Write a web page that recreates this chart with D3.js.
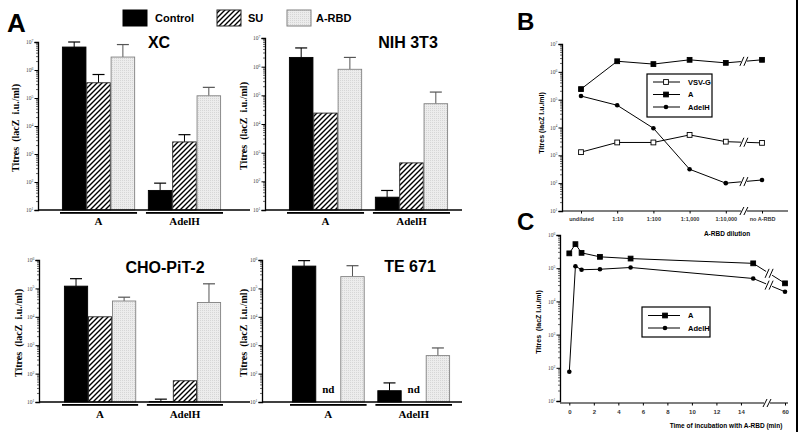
<!DOCTYPE html>
<html><head><meta charset="utf-8">
<script src="https://cdn.jsdelivr.net/npm/d3@7"></script>
<style>body{margin:0;background:#fff} svg{display:block}</style>
</head><body>
<svg id="c" width="800" height="438"></svg>
<script>
// ---------- DATA ----------
const groups = ["A", "AdelH"];
const series = ["Control", "SU", "A-RBD"];

const xcValues  = [[6.6e6, 3.5e5, 2.9e6], [50, 2700, 1.2e5]];
const xcErrors  = [[1.0e7, 6.9e5, 8.1e6], [91, 4900, 2.4e5]];
const nihValues = [[2.1e6, 2.4e4, 8.1e5], [28, 440, 5.1e4]];
const nihErrors = [[4.5e6, null, 2.1e6], [48, null, 1.3e5]];
const choValues = [[1.2e5, 1.0e4, 3.6e4], [10.3, 56, 3.2e4]];
const choErrors = [[2.2e5, null, 4.9e4], [12.6, null, 1.45e5]];
const teValues  = [[6.1e5, null, 2.6e5], [25, null, 430]];
const teErrors  = [[9.5e5, null, 6.3e5], [47, null, 800]];

const bCategories = ["undiluted", "1:10", "1:100", "1:1,000", "1:10,000", "no A-RBD"];
const bVSVG  = [1300, 2900, 2900, 5400, 3100, 2800];
const bA     = [2.4e5, 2.4e6, 1.9e6, 2.7e6, 2.1e6, 2.7e6];
const bAdelH = [1.35e5, 6.3e4, 9.4e3, 316, 100, 130];

const cTimes = [0, 0.5, 1, 2.5, 5, 15, 60];
const cA     = [2.8e5, 5.3e5, 2.9e5, 2.2e5, 1.95e5, 1.4e5, 3.5e4];
const cAdelH = [76, 1.15e5, 9.0e4, 9.3e4, 1.05e5, 4.9e4, 1.95e4];
const cTickValues = [0, 2, 4, 6, 8, 10, 12, 14, 60];

// ---------- DRAW ----------
const svg = d3.select("#c");
const SANS = "'Liberation Sans', Arial, Helvetica, sans-serif";
const SERIF = "'Liberation Serif', 'Times New Roman', serif";

const defs = svg.append("defs");
const pat = defs.append("pattern").attr("id", "hatch").attr("patternUnits", "userSpaceOnUse")
  .attr("width", 5).attr("height", 5);
pat.append("rect").attr("width", 5).attr("height", 5).attr("fill", "#fff");
pat.append("path").attr("d", "M-1,1 l2,-2 M0,5 l5,-5 M4,6 l2,-2")
  .attr("stroke", "#000").attr("stroke-width", 1.4);
const dots = defs.append("pattern").attr("id", "dots").attr("patternUnits", "userSpaceOnUse")
  .attr("width", 2).attr("height", 2);
dots.append("rect").attr("width", 2).attr("height", 2).attr("fill", "#ececec");
dots.append("rect").attr("width", 1).attr("height", 1).attr("fill", "#d6d6d6");

const fills = {"Control": "#000", "SU": "url(#hatch)", "A-RBD": "url(#dots)"};
const strokes = {"Control": "#000", "SU": "#222", "A-RBD": "#808080"};

function logAxis(g, y, minExp, maxExp, axisX) {
  const major = d3.range(minExp, maxExp + 1).map(e => Math.pow(10, e));
  const ax = g.append("g").attr("transform", `translate(${axisX},0)`)
    .call(d3.axisLeft(y).tickValues(major).tickSize(3.5).tickFormat(""));
  ax.select(".domain").attr("stroke-width", 1.3);
  ax.selectAll(".tick line").attr("stroke-width", 1);
  const minor = [];
  for (let e = minExp; e < maxExp; e++) for (let k = 2; k <= 9; k++) minor.push(k * Math.pow(10, e));
  ax.selectAll(".minor").data(minor).join("line").attr("class", "minor")
    .attr("x1", 0).attr("x2", -2).attr("y1", d => y(d)).attr("y2", d => y(d))
    .attr("stroke", "#000").attr("stroke-width", 0.6);
  ax.selectAll(".tick").each(function(d) {
    const t = d3.select(this).append("text").attr("x", -4.5).attr("y", 1.6)
      .attr("text-anchor", "end").attr("font-family", SERIF).attr("font-size", 5.5).attr("fill", "#444");
    t.append("tspan").text("10");
    t.append("tspan").attr("dy", -2.2).attr("font-size", 3.8).text(Math.round(Math.log10(d)));
  });
}

function yTitle(x, yc, size, family, text) {
  svg.append("text").attr("transform", `translate(${x},${yc}) rotate(-90)`)
    .attr("text-anchor", "middle").attr("font-family", family).attr("font-weight", "bold")
    .attr("font-size", size).attr("xml:space", "preserve").style("white-space", "pre").text(text);
}

function barPanel(cfg, values, errors) {
  const g = svg.append("g");
  const y = d3.scaleLog().domain([Math.pow(10, cfg.minExp), Math.pow(10, cfg.maxExp)]).range([cfg.bottom, cfg.top]);
  const x0 = d3.scaleBand().domain(groups).range(cfg.barRange).paddingInner(0.15);
  const x1 = d3.scaleBand().domain(series).range([0, x0.bandwidth()]);
  groups.forEach((grp, gi) => {
    series.forEach((s, si) => {
      const v = values[gi][si];
      const cx = x0(grp) + x1(s) + x1.bandwidth() / 2;
      if (v == null) {
        g.append("text").attr("x", cx).attr("y", cfg.bottom - 9).attr("text-anchor", "middle")
          .attr("font-family", SERIF).attr("font-weight", "bold").attr("font-size", 11).text("nd");
        return;
      }
      const e = errors[gi][si];
      const ec = s === "A-RBD" ? "#555" : "#000";
      if (e != null) {
        g.append("line").attr("x1", cx).attr("x2", cx).attr("y1", y(v)).attr("y2", y(e))
          .attr("stroke", ec).attr("stroke-width", 1);
        g.append("line").attr("x1", cx - 6).attr("x2", cx + 6).attr("y1", y(e)).attr("y2", y(e))
          .attr("stroke", ec).attr("stroke-width", 1.2);
      }
      g.append("rect").attr("x", x0(grp) + x1(s) + 0.4).attr("y", y(v))
        .attr("width", x1.bandwidth() - 0.8).attr("height", cfg.bottom - y(v))
        .attr("fill", fills[s]).attr("stroke", strokes[s]).attr("stroke-width", 0.9);
    });
    g.append("rect").attr("x", x0(grp) - 2).attr("y", cfg.bottom + 2)
      .attr("width", x0.bandwidth() + 4).attr("height", 1.8).attr("fill", "#000");
    g.append("text").attr("x", x0(grp) + x0.bandwidth() / 2).attr("y", cfg.groupLabelY)
      .attr("text-anchor", "middle").attr("font-family", SERIF).attr("font-weight", "bold")
      .attr("font-size", 11).text(grp);
  });
  g.append("line").attr("x1", cfg.axisX).attr("x2", cfg.baseEnd).attr("y1", cfg.bottom).attr("y2", cfg.bottom)
    .attr("stroke", "#000").attr("stroke-width", 1.3);
  logAxis(g, y, cfg.minExp, cfg.maxExp, cfg.axisX);
  g.append("text").attr("x", cfg.titleX).attr("y", cfg.titleY).attr("text-anchor", "middle")
    .attr("font-family", SANS).attr("font-weight", "bold").attr("font-size", 16).text(cfg.title);
  yTitle(cfg.labelX, (cfg.top + cfg.bottom) / 2 + 2, 10, SERIF, "Titres  (lacZ  i.u./ml)");
}

barPanel({title: "XC", titleX: 159, titleY: 48, axisX: 38, top: 42, bottom: 210, minExp: 1, maxExp: 7,
  barRange: [62, 221], baseEnd: 250, labelX: 19, groupLabelY: 225}, xcValues, xcErrors);
barPanel({title: "NIH 3T3", titleX: 408, titleY: 48, axisX: 265, top: 38, bottom: 210, minExp: 1, maxExp: 7,
  barRange: [289, 448], baseEnd: 462, labelX: 247, groupLabelY: 225}, nihValues, nihErrors);
barPanel({title: "CHO-PiT-2", titleX: 165, titleY: 273, axisX: 39, top: 260, bottom: 402, minExp: 1, maxExp: 6,
  barRange: [64, 221], baseEnd: 250, labelX: 22, groupLabelY: 418}, choValues, choErrors);
barPanel({title: "TE 671", titleX: 410, titleY: 272, axisX: 262, top: 260, bottom: 402, minExp: 1, maxExp: 6,
  barRange: [292, 450], baseEnd: 462, labelX: 247, groupLabelY: 418}, teValues, teErrors);

// Top legend
const legItems = [{s: "Control", x: 123, tx: 155}, {s: "SU", x: 217, tx: 248}, {s: "A-RBD", x: 287, tx: 316}];
legItems.forEach(d => {
  svg.append("rect").attr("x", d.x).attr("y", 10).attr("width", 24).attr("height", 16)
    .attr("fill", fills[d.s]).attr("stroke", strokes[d.s]).attr("stroke-width", 1);
  svg.append("text").attr("x", d.tx).attr("y", 22).attr("font-family", SANS).attr("font-weight", "bold")
    .attr("font-size", 11).text(d.s);
});

// Panel letters
[["A", 7, 32, 26], ["B", 517, 30, 24], ["C", 517, 230, 24]].forEach(([t, x, y, s]) => {
  svg.append("text").attr("x", x).attr("y", y).attr("font-family", SANS).attr("font-weight", "bold")
    .attr("font-size", s).text(t);
});

function breakMark(g, x, y, h) {
  g.append("rect").attr("x", x - 3).attr("y", y - h / 2).attr("width", 6).attr("height", h).attr("fill", "#fff");
  [-2, 2].forEach(dx => g.append("line").attr("x1", x + dx - 2).attr("x2", x + dx + 2)
    .attr("y1", y + h / 2).attr("y2", y - h / 2).attr("stroke", "#000").attr("stroke-width", 1));
}
function marker(g, type, x, y) {
  if (type === "circle") g.append("circle").attr("cx", x).attr("cy", y).attr("r", 2.3).attr("fill", "#000");
  else g.append("rect").attr("x", x - 2.4).attr("y", y - 2.4).attr("width", 4.8).attr("height", 4.8)
    .attr("fill", type === "open" ? "#fff" : "#000").attr("stroke", "#000").attr("stroke-width", 0.9);
}

// ---------- Panel B ----------
{
  const g = svg.append("g");
  const x = d3.scalePoint().domain(bCategories).range([581, 762]);
  const y = d3.scaleLog().domain([10, 1e7]).range([211, 44]);
  const xa = g.append("g").attr("transform", "translate(0,211)")
    .call(d3.axisBottom(x).tickSize(2.5).tickSizeOuter(0));
  xa.select(".domain").attr("d", "M562,0H788").attr("stroke-width", 1.2);
  xa.selectAll(".tick text").attr("font-family", SANS).attr("font-size", 5.5).attr("font-weight", "bold")
    .attr("fill", "#333").attr("dy", "0.9em");
  logAxis(g, y, 1, 7, 562);
  const bx = (x("1:10,000") + x("no A-RBD")) / 2;
  breakMark(g, bx, 211, 8);
  const sets = [[bVSVG, "open"], [bA, "square"], [bAdelH, "circle"]];
  sets.forEach(([vals, type]) => {
    g.append("path").attr("d", d3.line().x((d, i) => x(bCategories[i])).y(d => y(d))(vals))
      .attr("fill", "none").attr("stroke", "#000").attr("stroke-width", 1);
    const ym = (y(vals[4]) + y(vals[5])) / 2;
    breakMark(g, bx, ym, 9);
    vals.forEach((v, i) => marker(g, type, x(bCategories[i]), y(v)));
  });
  g.append("rect").attr("x", 647).attr("y", 74).attr("width", 65).attr("height", 43)
    .attr("fill", "#fff").attr("stroke", "#000").attr("stroke-width", 1.2);
  [["VSV-G", "open", 82], ["A", "square", 94.5], ["AdelH", "circle", 107]].forEach(([t, type, yy]) => {
    g.append("line").attr("x1", 653).attr("x2", 680).attr("y1", yy).attr("y2", yy).attr("stroke", "#000");
    marker(g, type, 666, yy);
    g.append("text").attr("x", 688).attr("y", yy + 2.6).attr("font-family", SANS).attr("font-weight", "bold")
      .attr("font-size", 7.5).text(t);
  });
  yTitle(544, 123, 7, SANS, "Titres (lacZ I.u./ml)");
  g.append("text").attr("x", 727).attr("y", 236).attr("text-anchor", "middle").attr("font-family", SANS)
    .attr("font-weight", "bold").attr("font-size", 6.5).text("A-RBD dilution");
}

// ---------- Panel C ----------
{
  const g = svg.append("g");
  const x = d3.scaleLinear().domain([0, 15, 60]).range([569.3, 753.2, 785]);
  const y = d3.scaleLog().domain([10, 1e6]).range([401, 235]);
  const xa = g.append("g").attr("transform", "translate(0,403)")
    .call(d3.axisBottom(x).tickValues(cTickValues).tickSize(2.5).tickSizeOuter(0).tickFormat(d3.format("d")));
  xa.select(".domain").attr("d", "M560,0H788").attr("stroke-width", 1.2);
  xa.selectAll(".tick text").attr("font-family", SANS).attr("font-size", 6).attr("font-weight", "bold")
    .attr("fill", "#333").attr("dy", "0.95em");
  logAxis(g, y, 1, 6, 560);
  const bx = (x(15) + x(60)) / 2;
  breakMark(g, 767, 403, 8);
  [[cA, "square"], [cAdelH, "circle"]].forEach(([vals, type]) => {
    g.append("path").attr("d", d3.line().x((d, i) => x(cTimes[i])).y(d => y(d))(vals))
      .attr("fill", "none").attr("stroke", "#000").attr("stroke-width", 1);
    const ym = (y(vals[5]) + y(vals[6])) / 2;
    breakMark(g, bx, ym, 9);
    vals.forEach((v, i) => marker(g, type, x(cTimes[i]), y(v)));
  });
  g.append("rect").attr("x", 642).attr("y", 307).attr("width", 68).attr("height", 30)
    .attr("fill", "#fff").attr("stroke", "#000").attr("stroke-width", 1.2);
  [["A", "square", 315.5], ["AdelH", "circle", 328]].forEach(([t, type, yy]) => {
    g.append("line").attr("x1", 648).attr("x2", 680).attr("y1", yy).attr("y2", yy).attr("stroke", "#000");
    marker(g, type, 665, yy);
    g.append("text").attr("x", 688).attr("y", yy + 2.6).attr("font-family", SANS).attr("font-weight", "bold")
      .attr("font-size", 7.5).text(t);
  });
  yTitle(541, 322, 7, SANS, "Titres  (lacZ I.u./ml)");
  g.append("text").attr("x", 726).attr("y", 428).attr("text-anchor", "middle").attr("font-family", SANS)
    .attr("font-weight", "bold").attr("font-size", 6.5).text("Time of incubation with A-RBD (min)");
}

// right border
svg.append("line").attr("x1", 797).attr("x2", 797).attr("y1", 0).attr("y2", 432)
  .attr("stroke", "#000").attr("stroke-width", 2);
</script>
</body></html>
